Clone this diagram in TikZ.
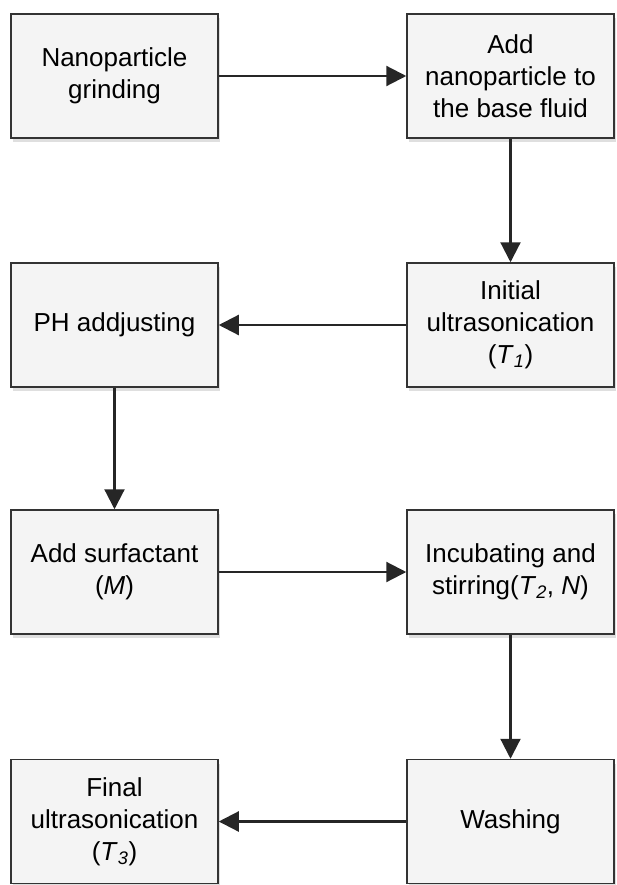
\documentclass[tikz,border=0pt]{standalone}
\usepackage{fontspec}
\setmainfont{Liberation Sans}
\usetikzlibrary{arrows.meta,shadows}
\definecolor{boxfill}{HTML}{F4F4F4}
\definecolor{boxline}{HTML}{333333}
\newcommand{\Tsub}[1]{(\textit{T}\textsubscript{\textit{#1}})}
\tikzset{
  stepbox/.style={draw=boxline, line width=1.5pt, fill=boxfill,
    minimum width=207pt, minimum height=124pt, inner sep=0pt,
    align=center, font=\fontsize{26pt}{32pt}\selectfont,
    drop shadow={opacity=0.25, shadow xshift=2pt, shadow yshift=-4pt}},
  flow/.style={draw=black!85, line width=2.2pt,
    -{Triangle[length=20pt,width=20pt]}}
}
\begin{document}
\begin{tikzpicture}[x=1pt,y=-1pt]
\useasboundingbox (0,0) rectangle (617,885);
\node[stepbox] (a) at (114.5,76) {Nanoparticle\\grinding};
\node[stepbox] (b) at (510.5,76) {Add\\nanoparticle to\\the base fluid};
\node[stepbox] (c) at (510.5,325) {Initial\\ultrasonication\\\Tsub{1}};
\node[stepbox] (d) at (114.5,325) {PH addjusting};
\node[stepbox] (e) at (114.5,572) {Add surfactant\\(\textit{M})};
\node[stepbox] (f) at (510.5,572) {Incubating and\\stirring(\textit{T}\textsubscript{\textit{2}}, \textit{N})};
\node[stepbox] (g) at (510.5,821.5) {Washing};
\node[stepbox] (h) at (114.5,821.5) {Final\\ultrasonication\\\Tsub{3}};
\draw[flow] (a) -- (b);
\draw[flow] (b) -- (c);
\draw[flow] (c) -- (d);
\draw[flow] (d) -- (e);
\draw[flow] (e) -- (f);
\draw[flow] (f) -- (g);
\draw[flow] (g) -- (h);
\end{tikzpicture}
\end{document}
